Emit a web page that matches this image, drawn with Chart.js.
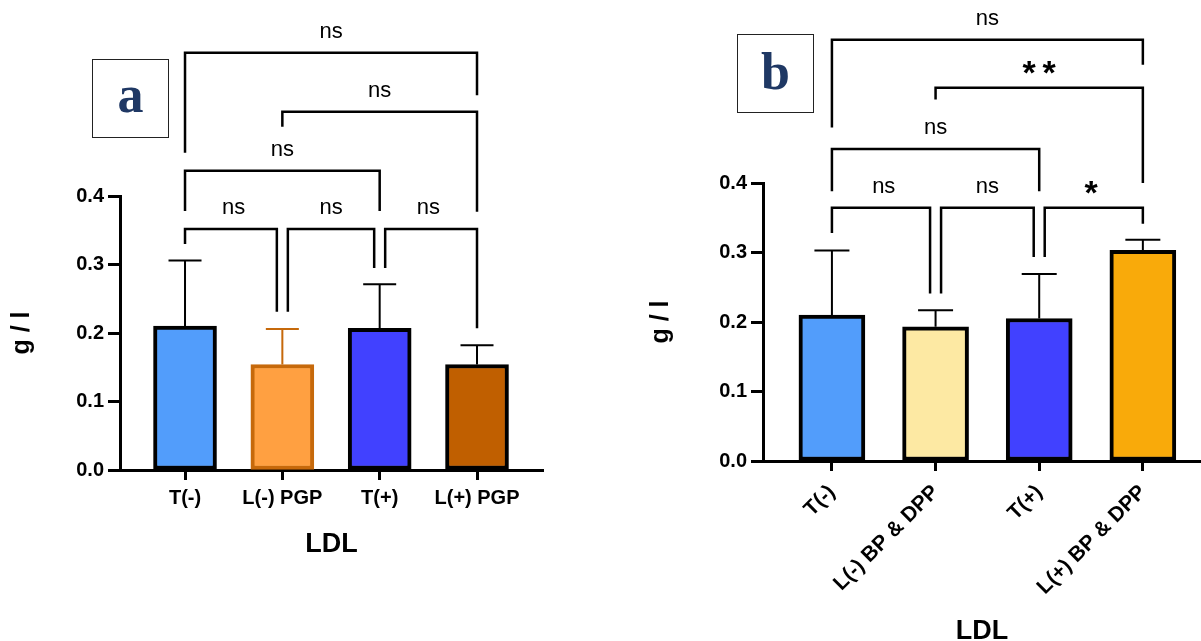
<!DOCTYPE html>
<html>
<head>
<meta charset="utf-8">
<script src="https://cdn.jsdelivr.net/npm/chart.js@4.4.0/dist/chart.umd.min.js"></script>
<style>
  body { margin: 0; background: #fff; overflow: hidden; width: 1201px; height: 641px; position: relative; }
  canvas { position: absolute; top: 0; }
  #chartA { left: 0; }
  #chartB { left: 600px; }
  .panel-tag {
    position: absolute; box-sizing: border-box; border: 1.5px solid #222; background: #fff;
    font-family: "Liberation Serif", "DejaVu Serif", serif; font-weight: bold; font-size: 52px;
    color: #1F3864; text-align: center;
  }
</style>
</head>
<body>
<canvas id="chartA" width="600" height="641"></canvas>
<canvas id="chartB" width="601" height="660"></canvas>
<div class="panel-tag" style="left:92px;top:59px;width:77px;height:79px;line-height:70px;">a</div>
<div class="panel-tag" style="left:737px;top:34px;width:77px;height:79px;line-height:74px;">b</div>
<script>
// categories
let catsA = ["T(-)", "L(-) PGP", "T(+)", "L(+) PGP"];
let catsB = ["T(-)", "L(-) BP & DPP", "T(+)", "L(+) BP & DPP"];

// means (g / l) and SD
let meanA = [0.210, 0.154, 0.207, 0.154];
let sdA = [0.096, 0.052, 0.064, 0.028];
let meanB = [0.210, 0.193, 0.205, 0.303];
let sdB = [0.093, 0.024, 0.064, 0.0155];

// y axis ticks
let yTicks = [0, 0.1, 0.2, 0.3, 0.4];

// significance brackets: from/to category, bar height h, leg ends y1/y2 (data units)
let bracketsA = [
  { from: 0, to: 1, h: 0.352, y1: 0.330, y2: 0.231, label: "ns" },
  { from: 1, to: 2, h: 0.352, y1: 0.231, y2: 0.295, label: "ns" },
  { from: 2, to: 3, h: 0.352, y1: 0.295, y2: 0.207, label: "ns" },
  { from: 0, to: 2, h: 0.437, y1: 0.378, y2: 0.378, label: "ns" },
  { from: 1, to: 3, h: 0.523, y1: 0.501, y2: 0.377, label: "ns" },
  { from: 0, to: 3, h: 0.609, y1: 0.463, y2: 0.547, label: "ns" },
];
let bracketsB = [
  { from: 0, to: 1, h: 0.3645, y1: 0.328, y2: 0.241, label: "ns" },
  { from: 1, to: 2, h: 0.3645, y1: 0.241, y2: 0.2935, label: "ns" },
  { from: 2, to: 3, h: 0.3645, y1: 0.2935, y2: 0.3415, label: "*" },
  { from: 0, to: 2, h: 0.449, y1: 0.388, y2: 0.388, label: "ns" },
  { from: 1, to: 3, h: 0.537, y1: 0.520, y2: 0.400, label: "**" },
  { from: 0, to: 3, h: 0.606, y1: 0.480, y2: 0.570, label: "ns" },
];

Chart.defaults.font.family = "'Liberation Sans', Arial, sans-serif";
Chart.defaults.color = "#000";

// error bars (upper SD only)
const errorBars = {
  id: "errorBars",
  afterDatasetsDraw(chart, args, opts) {
    const ctx = chart.ctx;
    const y = chart.scales.y;
    const ds = chart.data.datasets[0];
    chart.getDatasetMeta(0).data.forEach((bar, i) => {
      const top = y.getPixelForValue(ds.data[i].y + opts.sd[i]);
      ctx.save();
      ctx.strokeStyle = opts.colors[i];
      ctx.lineWidth = 2;
      ctx.beginPath();
      ctx.moveTo(bar.x, bar.y);
      ctx.lineTo(bar.x, top);
      ctx.moveTo(bar.x - opts.cap / 2, top);
      ctx.lineTo(bar.x + opts.cap / 2, top);
      ctx.stroke();
      ctx.restore();
    });
  }
};

// comparison brackets above the bars
const sigBrackets = {
  id: "sigBrackets",
  afterDraw(chart, args, opts) {
    const ctx = chart.ctx;
    const xs = chart.scales.x, ys = chart.scales.y;
    const items = opts.items;
    items.forEach(b => {
      // pull legs apart where two brackets meet on the same category
      let s1 = items.some(o => o !== b && o.h === b.h && o.to === b.from) ? 5.5 : 0;
      let s2 = items.some(o => o !== b && o.h === b.h && o.from === b.to) ? -5.5 : 0;
      const x1 = xs.getPixelForValue(b.from) + s1;
      const x2 = xs.getPixelForValue(b.to) + s2;
      const ph = ys.getPixelForValue(b.h);
      ctx.save();
      ctx.strokeStyle = "#000";
      ctx.lineWidth = 2.5;
      ctx.lineJoin = "miter";
      ctx.beginPath();
      ctx.moveTo(x1, ys.getPixelForValue(b.y1));
      ctx.lineTo(x1, ph);
      ctx.lineTo(x2, ph);
      ctx.lineTo(x2, ys.getPixelForValue(b.y2));
      ctx.stroke();

      // label, ink centred about 20px above the bar
      const mid = (xs.getPixelForValue(b.from) + xs.getPixelForValue(b.to)) / 2;
      const stars = b.label.indexOf("*") >= 0;
      ctx.fillStyle = "#000";
      ctx.textAlign = "center";
      ctx.textBaseline = "alphabetic";
      ctx.font = stars ? "bold 34px 'Liberation Sans', Arial" : "22px 'Liberation Sans', Arial";
      const chars = stars ? b.label.split("") : [b.label];
      chars.forEach((c, k) => {
        const m = ctx.measureText(c);
        const base = ph - 20.5 + (m.actualBoundingBoxAscent - m.actualBoundingBoxDescent) / 2;
        ctx.fillText(c, mid + (k - (chars.length - 1) / 2) * 20, base);
      });
      ctx.restore();
    });
  }
};

function makeChart(id, cats, means, colors, borders, o) {
  return new Chart(document.getElementById(id), {
    type: "bar",
    data: {
      datasets: [{
        data: means.map((v, i) => ({ x: i, y: v })),
        backgroundColor: colors,
        borderColor: borders,
        borderWidth: 4,
        borderSkipped: false,
        barThickness: o.barW,
      }]
    },
    options: {
      responsive: false,
      animation: false,
      layout: { padding: { top: o.top, right: o.right, left: 0, bottom: 0 } },
      plugins: {
        legend: { display: false },
        tooltip: { enabled: false },
        errorBars: { sd: o.sd, colors: o.errColors, cap: o.cap },
        sigBrackets: { items: o.brackets },
      },
      scales: {
        x: {
          type: "linear",
          offset: false,
          min: o.xmin,
          max: o.xmax,
          afterBuildTicks: s => { s.ticks = cats.map((c, i) => ({ value: i })); },
          afterFit: s => { s.height = o.xh; },
          ticks: {
            callback: v => cats[v],
            autoSkip: false,
            minRotation: o.rot,
            maxRotation: o.rot,
            padding: o.xpad,
            font: { size: o.xfont, weight: "bold" },
          },
          grid: { offset: false, drawOnChartArea: false, drawTicks: true, tickLength: 10, tickWidth: 3, tickColor: "#000" },
          border: { display: true, color: "#000", width: 3 },
          title: {
            display: true, text: "LDL",
            font: { size: 27, weight: "bold" },
            padding: { top: 0, bottom: o.titlePad },
          },
        },
        y: {
          min: 0,
          max: 0.4,
          afterBuildTicks: s => { s.ticks = yTicks.map(v => ({ value: v })); },
          afterFit: s => { s.width = o.yw; },
          ticks: {
            callback: v => v.toFixed(1),
            padding: 4,
            font: { size: 20, weight: "bold" },
          },
          grid: { drawOnChartArea: false, drawTicks: true, tickLength: 12, tickWidth: 3, tickColor: "#000" },
          border: { display: true, color: "#000", width: 3 },
          title: {
            display: true, text: "g / l",
            font: { size: 25, weight: "bold" },
            padding: { top: o.yTitlePad, bottom: 0 },
          },
        }
      }
    },
    plugins: [errorBars, sigBrackets]
  });
}

makeChart("chartA", catsA, meanA,
  ["#529DFB", "#FFA041", "#4141FF", "#C05F00"],
  ["#000", "#C6690B", "#000", "#000"],
  { sd: sdA, errColors: ["#000", "#C6690B", "#000", "#000"], cap: 33, barW: 63,
    brackets: bracketsA, top: 196, right: 57, xh: 171, yw: 120,
    xmin: -0.668, xmax: 3.678, rot: 0, xpad: 6, xfont: 20, titlePad: 80, yTitlePad: 7 });

makeChart("chartB", catsB, meanB,
  ["#529DFB", "#FDE9A3", "#4141FF", "#F9AA0A"],
  ["#000", "#000", "#000", "#000"],
  { sd: sdB, errColors: ["#000", "#000", "#000", "#000"], cap: 35, barW: 66,
    brackets: bracketsB, top: 183, right: 0, xh: 199, yw: 163,
    xmin: -0.665, xmax: 3.561, rot: 45, xpad: 9, xfont: 21, titlePad: 12, yTitlePad: 46 });
</script>
</body>
</html>
